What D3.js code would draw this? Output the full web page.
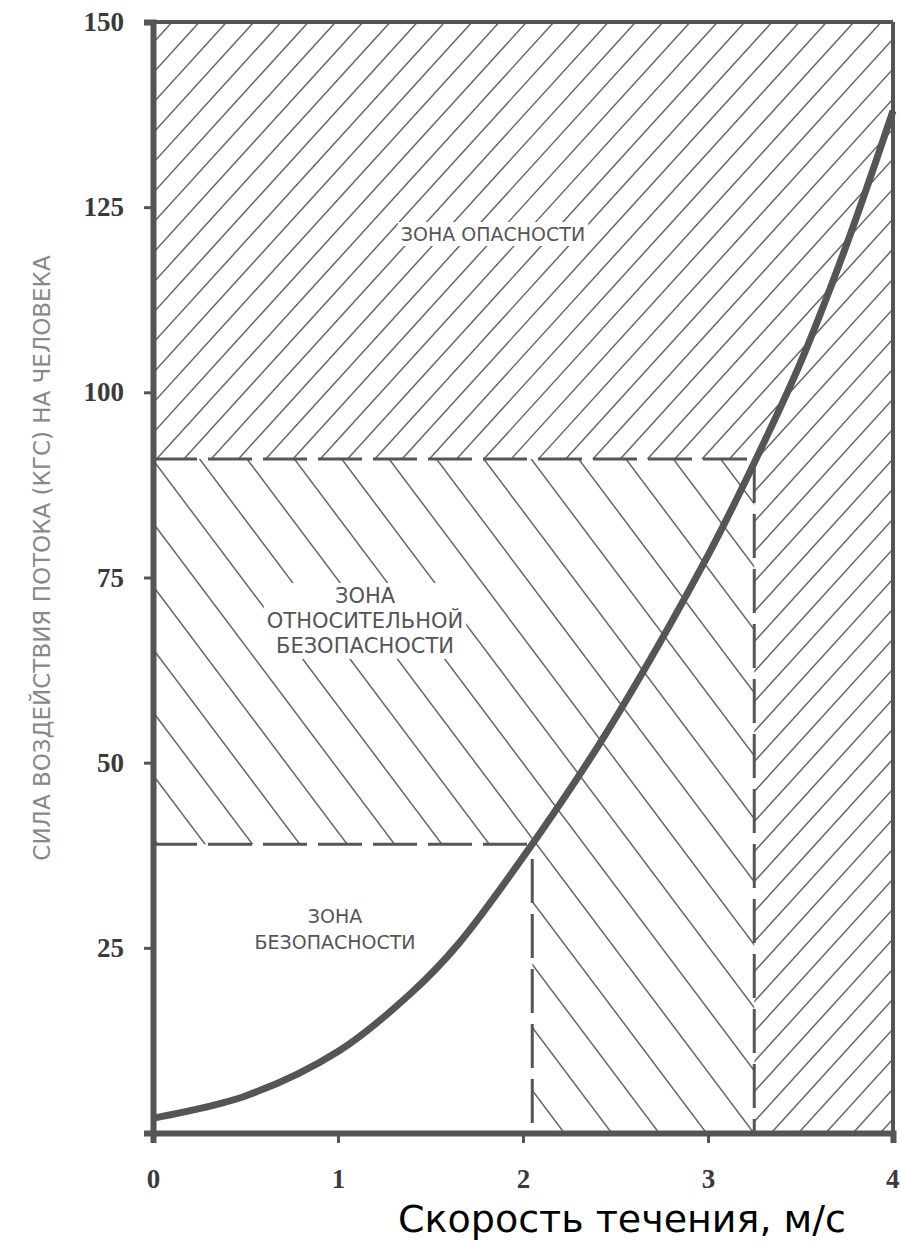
<!DOCTYPE html>
<html>
<head>
<meta charset="utf-8">
<script src="https://cdn.jsdelivr.net/npm/d3@7"></script>
<style>
  html, body { margin: 0; padding: 0; background: #fff; }
  svg { display: block; }
</style>
</head>
<body>
<svg id="chart" width="901" height="1248"></svg>
<script>
// curve: force on a person vs. current speed
const speed = [0, 0.5, 1, 1.4, 1.65, 2.05, 2.45, 3, 3.25, 3.5, 3.75, 4];
const force = [2, 5, 11, 19, 25.5, 39, 54, 78, 90.5, 104, 120, 138];

const yTicks = [25, 50, 75, 100, 125, 150];
const xTicks = [0, 1, 2, 3, 4];

// zone boundaries
const safeForce = 39;     // upper edge of the safe zone
const dangerForce = 91;   // lower edge of the danger zone
const safeSpeed = 2.05;
const dangerSpeed = 3.25;

const yTitle = "СИЛА ВОЗДЕЙСТВИЯ ПОТОКА (КГС) НА  ЧЕЛОВЕКА";
const xTitle = "Скорость течения, м/с";

const W = 901, H = 1248;
const x = d3.scaleLinear().domain([0, 4]).range([153, 893]);
const y = d3.scaleLinear().domain([0, 150]).range([1133, 22]);

const svg = d3.select("#chart");
const ink = "#555";
const defs = svg.append("defs");

// zones as polygons in data space
const dangerZone = [[0, dangerForce], [dangerSpeed, dangerForce], [dangerSpeed, 0], [4, 0], [4, 150], [0, 150]];
const relZone = [[0, safeForce], [safeSpeed, safeForce], [safeSpeed, 0], [dangerSpeed, 0], [dangerSpeed, dangerForce], [0, dangerForce]];

const poly = pts => "M" + pts.map(p => [x(p[0]), y(p[1])].join(",")).join("L") + "Z";

function hatch(id, zone, slope, step, phaseY) {
  defs.append("clipPath").attr("id", id)
    .append("path").attr("d", poly(zone));
  const g = svg.append("g").attr("clip-path", `url(#${id})`);
  const x0 = x(0), x1 = x(4);
  const lines = [];
  // line through (x0, c) with screen slope `slope`
  for (let c = phaseY - 60 * step; c < H + 60 * step; c += step) {
    lines.push({ c });
  }
  g.selectAll("line").data(lines).enter().append("line")
    .attr("x1", x0).attr("y1", d => d.c)
    .attr("x2", x1).attr("y2", d => d.c + slope * (x1 - x0))
    .attr("stroke", "#666").attr("stroke-width", 1.5);
}

hatch("clipDanger", dangerZone, -1.1, 30, 43);
hatch("clipRel", relZone, 1.33, 63, 460);

// label knockouts + labels
function label(lines, cx, cy, size, lh) {
  const g = svg.append("g");
  const t = g.append("text")
    .attr("font-family", "DejaVu Sans")
    .attr("font-size", size)
    .attr("fill", "#555")
    .attr("text-anchor", "middle");
  lines.forEach((s, i) => {
    t.append("tspan").attr("x", cx).attr("y", cy + i * lh).text(s);
  });
  const b = t.node().getBBox();
  g.insert("rect", "text")
    .attr("x", b.x - 3).attr("y", b.y - 1)
    .attr("width", b.width + 6).attr("height", b.height + 2)
    .attr("fill", "#fff");
}

label(["ЗОНА ОПАСНОСТИ"], 493, 241, 19, 24);
label(["ЗОНА", "ОТНОСИТЕЛЬНОЙ", "БЕЗОПАСНОСТИ"], 365, 603, 21, 25);
label(["ЗОНА", "БЕЗОПАСНОСТИ"], 335, 923, 19, 26);

// dashed boundaries
const dash = "44,11";
const dashed = [
  [[0, dangerForce], [dangerSpeed, dangerForce]],
  [[dangerSpeed, dangerForce], [dangerSpeed, 0]],
  [[0, safeForce], [safeSpeed, safeForce]],
  [[safeSpeed, safeForce - 2], [safeSpeed, 0]]
];
svg.append("g").selectAll("line").data(dashed).enter().append("line")
  .attr("x1", d => x(d[0][0])).attr("y1", d => y(d[0][1]))
  .attr("x2", d => x(d[1][0])).attr("y2", d => y(d[1][1]))
  .attr("stroke", ink).attr("stroke-width", 3)
  .attr("stroke-dasharray", dash);

// curve
const pts = speed.map((s, i) => [s, force[i]]);
svg.append("path")
  .attr("d", d3.line().x(d => x(d[0])).y(d => y(d[1])).curve(d3.curveCatmullRom)(pts))
  .attr("fill", "none")
  .attr("stroke", ink)
  .attr("stroke-width", 7);

// frame
svg.append("line").attr("x1", x(0)).attr("x2", x(4)).attr("y1", y(150)).attr("y2", y(150))
  .attr("stroke", ink).attr("stroke-width", 4);
svg.append("line").attr("x1", x(4)).attr("x2", x(4)).attr("y1", y(150)).attr("y2", y(0))
  .attr("stroke", ink).attr("stroke-width", 4);

// axes
const yAxis = svg.append("g")
  .attr("transform", `translate(${x(0)},0)`)
  .call(d3.axisLeft(y).tickValues(yTicks).tickSize(9).tickPadding(20));
const xAxis = svg.append("g")
  .attr("transform", `translate(0,${y(0)})`)
  .call(d3.axisBottom(x).tickValues(xTicks).tickFormat(d3.format("d")).tickSize(10).tickPadding(26));

[yAxis, xAxis].forEach(a => {
  a.select(".domain").attr("stroke", ink).attr("stroke-width", 6);
  a.selectAll(".tick line").attr("stroke", ink).attr("stroke-width", 3);
  a.selectAll(".tick text")
    .attr("font-family", "Liberation Serif")
    .attr("font-weight", "bold")
    .attr("font-size", 27)
    .attr("fill", "#3a3a3a");
});
// the last x label sits against the right edge of the page
xAxis.selectAll(".tick").filter(d => d === 4).select("text")
  .attr("text-anchor", "end").attr("x", 6);

// titles
svg.append("text")
  .attr("transform", `translate(50,558) rotate(-90)`)
  .attr("text-anchor", "middle")
  .attr("font-family", "DejaVu Sans")
  .attr("font-size", 23)
  .attr("fill", "#888")
  .text(yTitle);

svg.append("text")
  .attr("x", 622).attr("y", 1232)
  .attr("text-anchor", "middle")
  .attr("font-family", "DejaVu Sans")
  .attr("font-size", 38)
  .attr("fill", "#000")
  .text(xTitle);
</script>
</body>
</html>
